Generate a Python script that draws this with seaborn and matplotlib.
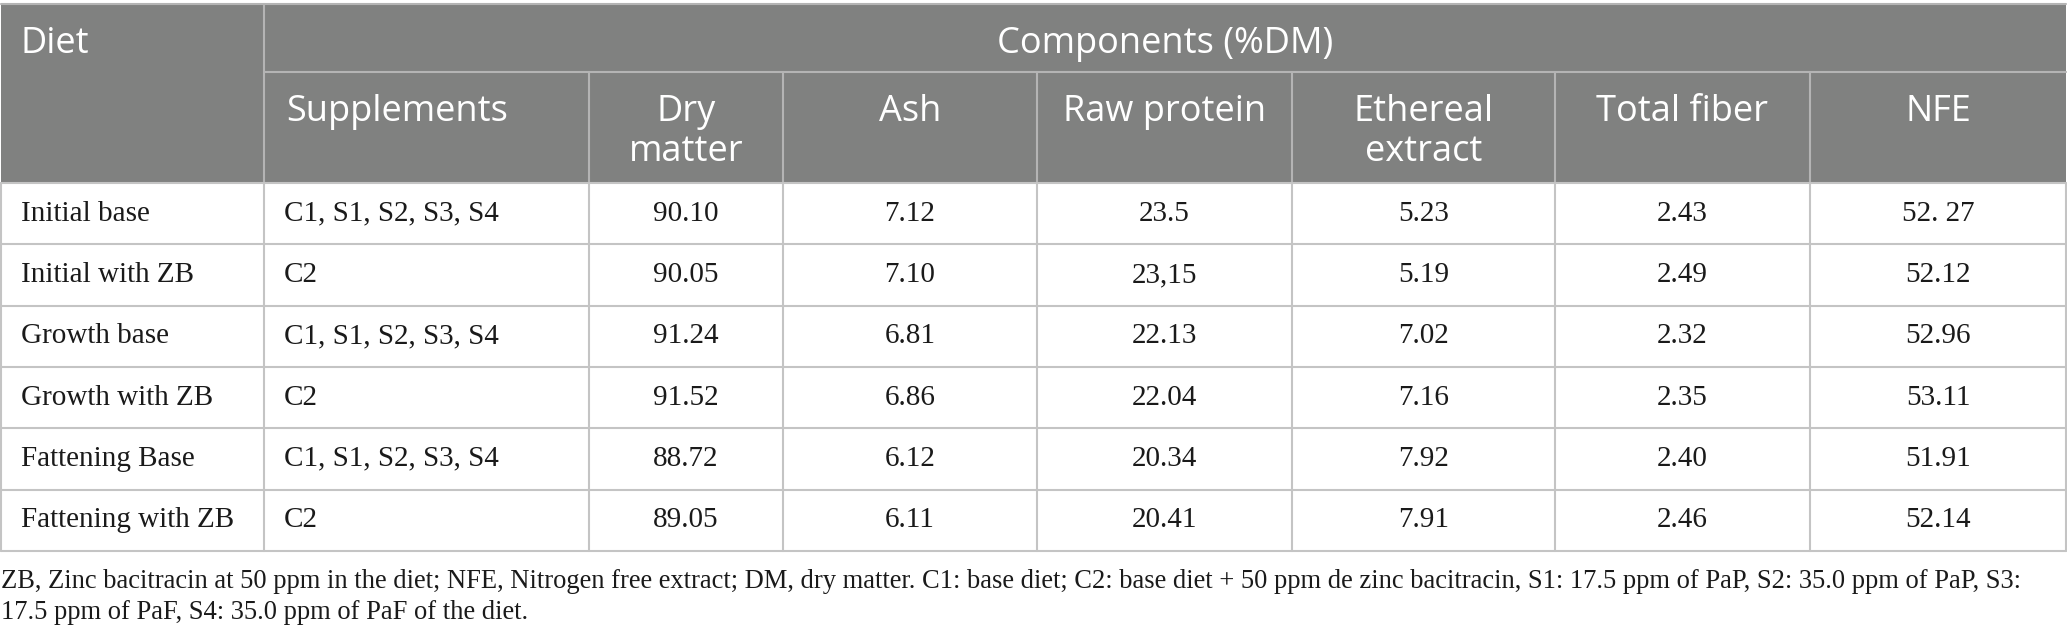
import matplotlib
matplotlib.use("Agg")
import matplotlib.pyplot as plt
import seaborn as sns

# table content
diets = ["Initial base", "Initial with ZB", "Growth base", "Growth with ZB",
         "Fattening Base", "Fattening with ZB"]
supplements = ["C1, S1, S2, S3, S4", "C2", "C1, S1, S2, S3, S4", "C2",
               "C1, S1, S2, S3, S4", "C2"]
dry_matter = ["90.10", "90.05", "91.24", "91.52", "88.72", "89.05"]
ash = ["7.12", "7.10", "6.81", "6.86", "6.12", "6.11"]
raw_protein = ["23.5", "23,15", "22.13", "22.04", "20.34", "20.41"]
ethereal = ["5.23", "5.19", "7.02", "7.16", "7.92", "7.91"]
total_fiber = ["2.43", "2.49", "2.32", "2.35", "2.40", "2.46"]
nfe = ["52. 27", "52.12", "52.96", "53.11", "51.91", "52.14"]

col_headers = ["Supplements", "Dry\nmatter", "Ash", "Raw protein",
               "Ethereal\nextract", "Total fiber", "NFE"]
top_header = "Components (%DM)"
first_header = "Diet"
footnote_lines = [
    "ZB, Zinc bacitracin at 50 ppm in the diet; NFE, Nitrogen free extract; DM, dry matter. "
    "C1: base diet; C2: base diet + 50 ppm de zinc bacitracin, S1: 17.5 ppm of PaP, "
    "S2: 35.0 ppm of PaP, S3:",
    "17.5 ppm of PaF, S4: 35.0 ppm of PaF of the diet.",
]

columns = [diets, supplements, dry_matter, ash, raw_protein, ethereal, total_fiber, nfe]

# layout (pixels)
W, H = 2067, 641
col_edges = [1, 264, 589, 783, 1037, 1292, 1555, 1810, 2066]
top, mid, head_bot = 4, 72, 183
row_h = 61.3
header_bg = "#808180"
head_line = "#b4b4b4"
body_line = "#c4c4c4"

sns.set_theme(style="white")
head_font = "Open Sans"
body_font = "Liberation Serif"
hsize = 26

fig = plt.figure(figsize=(W / 100, H / 100), dpi=100)
ax = fig.add_axes([0, 0, 1, 1])
ax.set_xlim(0, W)
ax.set_ylim(H, 0)
ax.axis("off")

# header background
ax.fill_between([col_edges[0], col_edges[-1]], top, head_bot, color=header_bg, lw=0)

# header lines
ax.plot([col_edges[1], col_edges[-1]], [mid, mid], color=head_line, lw=1.5)
ax.plot([col_edges[1], col_edges[1]], [top, head_bot], color=head_line, lw=1.5)
for x in col_edges[2:-1]:
    ax.plot([x, x], [mid, head_bot], color=head_line, lw=1.5)
ax.plot([col_edges[0], col_edges[-1]], [top, top], color=head_line, lw=1.5)

# body lines
n = len(diets)
bottom = head_bot + n * row_h
for i in range(n + 1):
    y = head_bot + i * row_h
    ax.plot([col_edges[0], col_edges[-1]], [y, y], color=body_line, lw=1.5)
for x in col_edges:
    ax.plot([x, x], [head_bot, bottom], color=body_line, lw=1.5)

# header text
ax.text(20, 44, first_header, color="white", fontsize=hsize, family=head_font,
        ha="left", va="center")
ax.text((col_edges[1] + col_edges[-1]) / 2, 44, top_header, color="white",
        fontsize=hsize, family=head_font, ha="center", va="center")
for j, label in enumerate(col_headers):
    left, right = col_edges[j + 1], col_edges[j + 2]
    for k, line in enumerate(label.split("\n")):
        if j == 0:
            ax.text(left + 22, 112 + 40 * k, line, color="white", fontsize=hsize,
                    family=head_font, ha="left", va="center")
        else:
            ax.text((left + right) / 2, 112 + 40 * k, line, color="white",
                    fontsize=hsize, family=head_font, ha="center", va="center")

# body text
for j, col in enumerate(columns):
    left, right = col_edges[j], col_edges[j + 1]
    for i, val in enumerate(col):
        y = head_bot + (i + 0.5) * row_h
        if j < 2:
            ax.text(left + 20, y, val, fontsize=21, family=body_font,
                    ha="left", va="center", color="#1a1a1a")
        else:
            ax.text((left + right) / 2, y, val, fontsize=21, family=body_font,
                    ha="center", va="center", color="#1a1a1a")

# footnote
for k, line in enumerate(footnote_lines):
    ax.text(1, 588 + 31 * k, line, fontsize=19.1, family=body_font,
            ha="left", va="baseline", color="#1a1a1a")

fig.savefig("out.png", dpi=100)
